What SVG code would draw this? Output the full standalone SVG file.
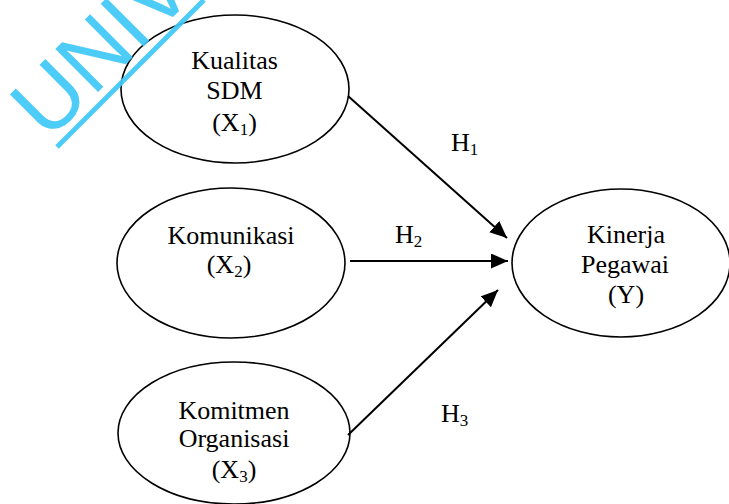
<svg xmlns="http://www.w3.org/2000/svg" width="729" height="504" viewBox="0 0 729 504">
  <defs>
    <style>
      .node { fill: none; stroke: #000; stroke-width: 1.6; }
      .lbl { font-family: "Liberation Serif", "Times New Roman", Times, serif; font-size: 26px; fill: #000; text-anchor: middle; }
      .hl { font-family: "Liberation Serif", "Times New Roman", Times, serif; font-size: 26px; fill: #000; }
      .sub { font-size: 17px; }
      .edge { stroke: #000; stroke-width: 2; fill: none; marker-end: url(#arr); }
      .wm { font-family: "Liberation Sans", Arial, sans-serif; font-size: 88px; fill: #3fc8f8; }
    </style>
    <marker id="arr" markerUnits="userSpaceOnUse" markerWidth="18" markerHeight="16" refX="17" refY="7.5" orient="auto">
      <path d="M0,0 L17,7.5 L0,15 z" fill="#000"/>
    </marker>
  </defs>
  <rect width="729" height="504" fill="#fff"/>

  <g id="x1">
    <ellipse class="node" cx="235" cy="89" rx="114" ry="74"/>
    <text class="lbl" x="234.5" y="69">Kualitas</text>
    <text class="lbl" x="234.5" y="99">SDM</text>
    <text class="lbl" x="234.5" y="131">(X<tspan class="sub" dy="4">1</tspan><tspan dy="-4">)</tspan></text>
  </g>

  <g id="x2">
    <ellipse class="node" cx="231" cy="263" rx="114" ry="75"/>
    <text class="lbl" x="231" y="244">Komunikasi</text>
    <text class="lbl" x="229" y="273">(X<tspan class="sub" dy="4">2</tspan><tspan dy="-4">)</tspan></text>
  </g>

  <g id="x3">
    <ellipse class="node" cx="234" cy="433" rx="116" ry="71"/>
    <text class="lbl" x="234" y="419">Komitmen</text>
    <text class="lbl" x="234" y="447">Organisasi</text>
    <text class="lbl" x="234" y="478">(X<tspan class="sub" dy="4">3</tspan><tspan dy="-4">)</tspan></text>
  </g>

  <g id="y">
    <ellipse class="node" cx="621" cy="263" rx="109" ry="74"/>
    <text class="lbl" x="626" y="243">Kinerja</text>
    <text class="lbl" x="625" y="273">Pegawai</text>
    <text class="lbl" x="626" y="303">(Y)</text>
  </g>

  <g id="connectors">
    <line class="edge" x1="348" y1="96" x2="507" y2="238"/>
    <line class="edge" x1="350" y1="261" x2="508" y2="261"/>
    <line class="edge" x1="348" y1="435" x2="498" y2="290"/>
    <text class="hl" x="451" y="151">H<tspan class="sub" dy="4">1</tspan></text>
    <text class="hl" x="395" y="243">H<tspan class="sub" dy="4">2</tspan></text>
    <text class="hl" x="441" y="422">H<tspan class="sub" dy="4">3</tspan></text>
  </g>

  <g id="watermark" opacity="0.92">
    <text class="wm" x="48" y="142" transform="rotate(-45 48 142)">UNIV</text>
    <line x1="57" y1="147" x2="204" y2="0" stroke="#3fc8f8" stroke-width="5"/>
  </g>
</svg>
